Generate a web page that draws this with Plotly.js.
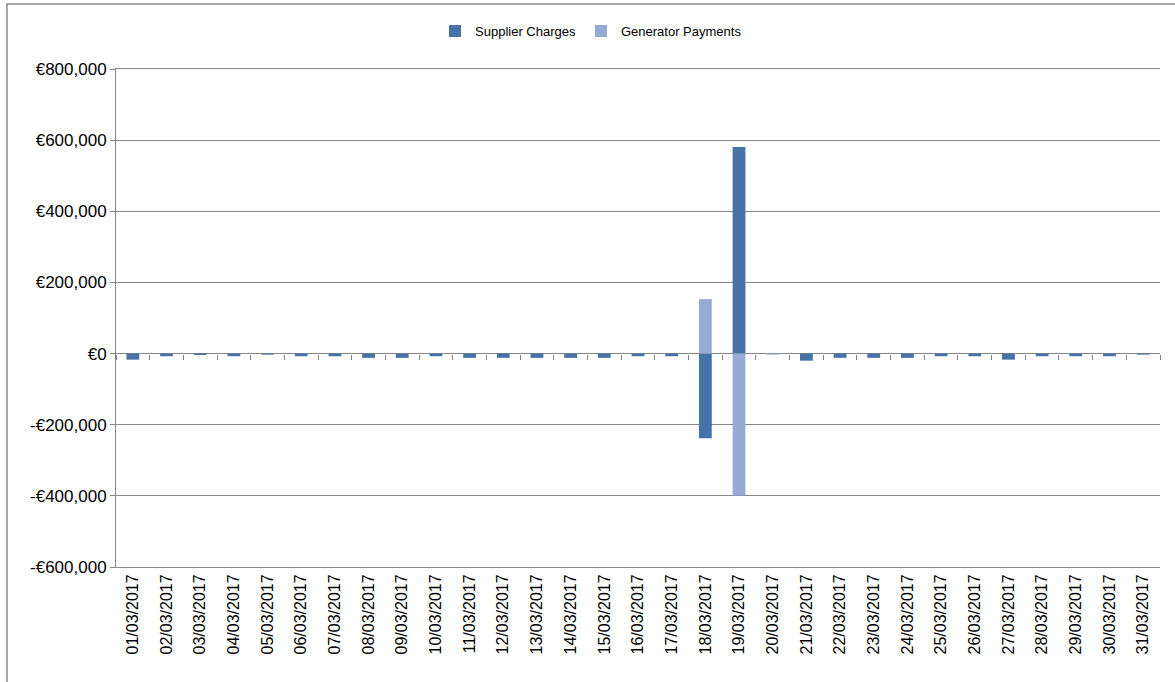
<!DOCTYPE html>
<html>
<head>
<meta charset="utf-8">
<script src="https://cdn.plot.ly/plotly-3.0.1.min.js"></script>
<style>
html,body{margin:0;padding:0;background:#fff;}
#chart{width:1175px;height:682px;}
</style>
</head>
<body>
<div id="chart"></div>
<script>
var dates = ["01/03/2017","02/03/2017","03/03/2017","04/03/2017","05/03/2017","06/03/2017","07/03/2017","08/03/2017","09/03/2017","10/03/2017","11/03/2017","12/03/2017","13/03/2017","14/03/2017","15/03/2017","16/03/2017","17/03/2017","18/03/2017","19/03/2017","20/03/2017","21/03/2017","22/03/2017","23/03/2017","24/03/2017","25/03/2017","26/03/2017","27/03/2017","28/03/2017","29/03/2017","30/03/2017","31/03/2017"];
var supplierCharges = [-17000,-7500,-4000,-7500,-3000,-7500,-7500,-12000,-12000,-7500,-12000,-12000,-12000,-12000,-12000,-7500,-7500,-238000,581000,0,-20000,-12000,-12000,-12000,-7500,-7500,-17000,-7500,-7500,-7500,-3000];
var generatorPayments = [0,0,0,0,0,0,0,0,0,0,0,0,0,0,0,0,0,153000,-399000,-3000,0,0,0,0,0,0,0,0,0,0,0];
var yTickVals = [-600000,-400000,-200000,0,200000,400000,600000,800000];
var yTickText = ["-€600,000","-€400,000","-€200,000","€0","€200,000","€400,000","€600,000","€800,000"];

var yMin = -600000, yMax = 800000;
var grey = "#868686";
var font = "Liberation Sans, Arial, sans-serif";

var data = [
  {type:"bar", name:"Supplier Charges", x:dates, y:supplierCharges,
   marker:{color:"#4572A7", line:{width:0}}, hoverinfo:"x+y"},
  {type:"bar", name:"Generator Payments", x:dates, y:generatorPayments,
   marker:{color:"#95ABD3", line:{width:0}}, hoverinfo:"x+y"},
  {type:"scatter", mode:"markers", x:dates, y:dates.map(function(){return null;}),
   xaxis:"x2", yaxis:"y", showlegend:false, hoverinfo:"skip"}
];

var layout = {
  width:1175, height:682,
  margin:{l:116, r:15, t:69, b:115},
  paper_bgcolor:"#fff", plot_bgcolor:"#fff",
  font:{family:font, color:"#000"},
  barmode:"relative",
  bargap:0.62,
  showlegend:true,
  legend:{orientation:"h", x:0.455, xanchor:"center", y:1.076, yanchor:"middle",
          font:{size:13, family:font, color:"#000"}, traceorder:"normal"},
  xaxis:{type:"category", categoryarray:dates, range:[-0.5, dates.length-0.5],
         tickangle:-90, ticks:"", showgrid:false, showline:true, mirror:true, linecolor:grey, linewidth:1,
         tickfont:{size:16, family:font, color:"#000"}, zeroline:false, fixedrange:true},
  xaxis2:{type:"category", categoryarray:dates, range:[-0.5, dates.length-0.5],
          overlaying:"x", anchor:"free", position:(0 - yMin)/(yMax - yMin),
          showticklabels:false, ticks:"outside", tickson:"boundaries", ticklen:5,
          tickcolor:grey, tickwidth:1, showgrid:false, showline:false, zeroline:false},
  yaxis:{range:[yMin, yMax], tickvals:yTickVals, ticktext:yTickText,
         showgrid:true, gridcolor:grey, gridwidth:1,
         zeroline:true, zerolinecolor:grey, zerolinewidth:1,
         showline:true, linecolor:grey, linewidth:1,
         ticks:"outside", ticklen:5, tickcolor:grey,
         tickfont:{size:17, family:font, color:"#000"}, fixedrange:true},
  shapes:[
    {type:"rect", xref:"paper", yref:"paper",
     x0:(7-116)/1044, x1:(1185-116)/1044, y0:(567-700)/498, y1:(567-4)/498,
     line:{color:"#8a8a8a", width:1.5}, fillcolor:"rgba(0,0,0,0)", layer:"below"}
  ]
};

Plotly.newPlot("chart", data, layout, {displayModeBar:false, staticPlot:true});
</script>
</body>
</html>
